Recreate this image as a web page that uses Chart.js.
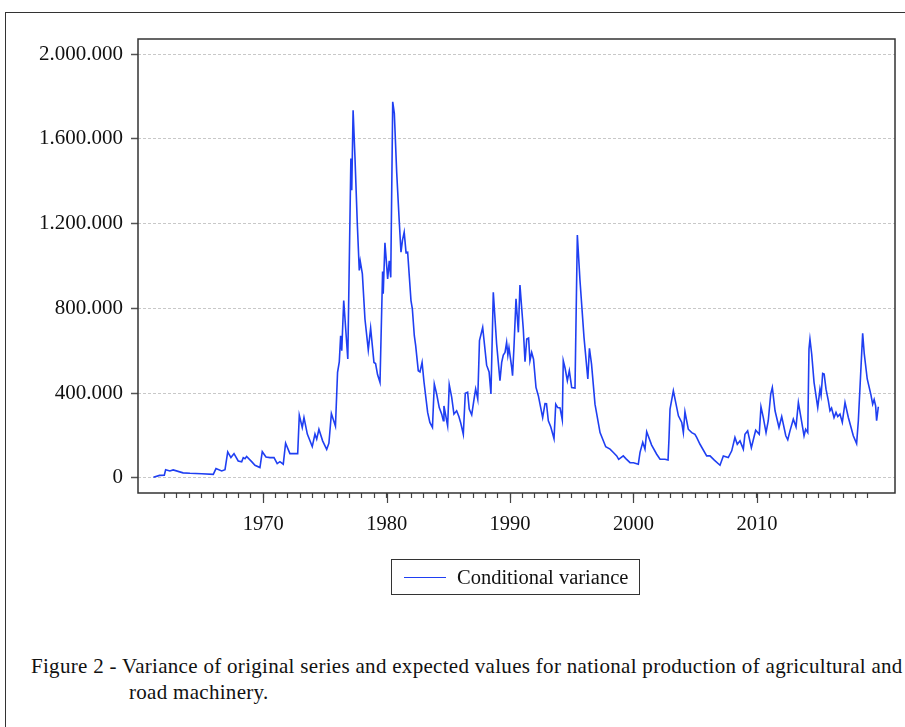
<!DOCTYPE html>
<html>
<head>
<meta charset="utf-8">
<script src="https://cdn.jsdelivr.net/npm/chart.js@4/dist/chart.umd.min.js"></script>
<style>
  html, body { margin: 0; padding: 0; background: #fff; }
  body { width: 905px; height: 727px; position: relative; overflow: hidden; font-family: 'Liberation Serif', 'Times New Roman', serif; color: #111; }
  #frame { position: absolute; left: 5px; top: 12px; width: 905px; height: 720px; border-left: 1.5px solid #333; border-top: 1.5px solid #333; }
  #chartBox { position: absolute; left: 0; top: 0; }
  #legend { position: absolute; left: 391px; top: 559px; width: 247px; height: 34px; border: 1.5px solid #333; font-size: 20.5px; }
  #legend .line { position: absolute; left: 12px; top: 17px; width: 42px; height: 0; border-top: 1.5px solid #1f3ff2; }
  #legend .txt { position: absolute; left: 65px; top: 4px; line-height: 26px; white-space: nowrap; }
  .cap { position: absolute; font-size: 21px; letter-spacing: 0.3px; line-height: 26px; white-space: nowrap; }
</style>
</head>
<body>
<div id="frame"></div>
<canvas id="chartBox" width="905" height="560"></canvas>
<div id="legend"></div>
<div class="cap" style="left:31px; top:653px;">Figure 2 - Variance of original series and expected values for national production of agricultural and</div>
<div class="cap" style="left:129px; top:679px;">road machinery.</div>
<script>
// decimal year of each reading (monthly series)
var years = [
  1961.10, 1961.60, 1961.98, 1962.09, 1962.43, 1962.70, 1963.50, 1964.06, 1965.00, 1965.95,
  1966.17, 1966.63, 1966.90, 1967.12, 1967.38, 1967.63, 1967.97, 1968.25, 1968.38, 1968.52,
  1968.65, 1969.06, 1969.33, 1969.73, 1969.92, 1970.22, 1970.54, 1970.87, 1971.13, 1971.35,
  1971.62, 1971.81, 1972.16, 1972.43, 1972.79, 1972.92, 1973.16, 1973.30, 1973.57, 1973.97,
  1974.19, 1974.33, 1974.51, 1974.81, 1975.14, 1975.32, 1975.52, 1975.85, 1976.02, 1976.16,
  1976.27, 1976.36, 1976.52, 1976.85, 1977.10, 1977.17, 1977.28, 1977.43, 1977.62, 1977.78,
  1977.86, 1978.03, 1978.24, 1978.51, 1978.70, 1978.97, 1979.10, 1979.26, 1979.46, 1979.67,
  1979.72, 1979.86, 1980.08, 1980.21, 1980.33, 1980.49, 1980.62, 1980.81, 1981.00, 1981.16,
  1981.28, 1981.42, 1981.57, 1981.70, 1981.97, 1982.08, 1982.24, 1982.35, 1982.56, 1982.70,
  1982.87, 1983.02, 1983.32, 1983.50, 1983.71, 1983.86, 1984.05, 1984.26, 1984.46, 1984.59,
  1984.64, 1984.80, 1984.94, 1985.07, 1985.27, 1985.45, 1985.67, 1985.85, 1985.99, 1986.21,
  1986.37, 1986.56, 1986.69, 1986.89, 1987.08, 1987.21, 1987.38, 1987.52, 1987.78, 1988.10,
  1988.30, 1988.45, 1988.64, 1988.91, 1989.18, 1989.32, 1989.45, 1989.59, 1989.72, 1989.82,
  1989.91, 1990.13, 1990.20, 1990.32, 1990.48, 1990.67, 1990.80, 1991.07, 1991.21, 1991.35,
  1991.50, 1991.61, 1991.75, 1991.90, 1992.10, 1992.29, 1992.48, 1992.64, 1992.83, 1992.95,
  1993.10, 1993.30, 1993.56, 1993.70, 1993.86, 1994.05, 1994.23, 1994.31, 1994.45, 1994.64,
  1994.80, 1994.99, 1995.26, 1995.45, 1995.66, 1995.99, 1996.30, 1996.43, 1996.60, 1996.88,
  1997.29, 1997.75, 1998.10, 1998.37, 1998.64, 1998.80, 1999.17, 1999.40, 1999.72, 2000.00,
  2000.39, 2000.53, 2000.75, 2000.93, 2001.07, 2001.47, 2001.88, 2002.15, 2002.55, 2002.80,
  2002.88, 2002.96, 2003.23, 2003.64, 2003.91, 2004.04, 2004.17, 2004.44, 2004.72, 2004.98,
  2005.12, 2005.39, 2005.93, 2006.20, 2006.55, 2007.01, 2007.28, 2007.68, 2007.96, 2008.22,
  2008.41, 2008.63, 2008.90, 2009.03, 2009.25, 2009.55, 2009.90, 2010.19, 2010.33, 2010.52,
  2010.74, 2010.92, 2011.12, 2011.25, 2011.47, 2011.79, 2012.01, 2012.34, 2012.50, 2012.68,
  2012.95, 2013.17, 2013.36, 2013.57, 2013.82, 2013.95, 2014.12, 2014.22, 2014.30, 2014.44,
  2014.63, 2014.93, 2015.11, 2015.20, 2015.33, 2015.45, 2015.60, 2015.79, 2015.92, 2016.05,
  2016.25, 2016.41, 2016.55, 2016.73, 2016.92, 2017.14, 2017.41, 2017.81, 2018.08, 2018.22,
  2018.57, 2018.70, 2018.94, 2019.24, 2019.38, 2019.50, 2019.62, 2019.70, 2019.84
];

var condVariance = [
  3000, 12000, 13000, 39000, 33000, 38000, 24000, 22000, 20000, 17000,
  44000, 33000, 39000, 123000, 96000, 115000, 80000, 76000, 96000, 91000,
  101000, 77000, 60000, 49000, 124000, 99000, 96000, 96000, 68000, 77000,
  65000, 164000, 115000, 115000, 115000, 296000, 238000, 285000, 207000, 148000,
  207000, 183000, 230000, 175000, 135000, 164000, 304000, 244000, 498000, 548000,
  671000, 600000, 837000, 561000, 1507000, 1357000, 1735000, 1514000, 1200000, 979000,
  1022000, 963000, 750000, 604000, 707000, 545000, 540000, 488000, 451000, 974000,
  869000, 1109000, 939000, 1024000, 946000, 1775000, 1720000, 1444000, 1231000, 1065000,
  1121000, 1160000, 1063000, 1065000, 837000, 798000, 671000, 624000, 506000, 500000,
  545000, 455000, 309000, 262000, 238000, 443000, 396000, 332000, 301000, 270000,
  340000, 290000, 246000, 440000, 380000, 301000, 317000, 290000, 262000, 206000,
  400000, 405000, 325000, 298000, 372000, 420000, 372000, 648000, 710000, 532000,
  500000, 396000, 876000, 632000, 459000, 545000, 580000, 592000, 640000, 580000,
  616000, 522000, 482000, 624000, 845000, 687000, 910000, 703000, 549000, 656000,
  660000, 553000, 592000, 560000, 427000, 388000, 332000, 285000, 351000, 350000,
  270000, 240000, 185000, 348000, 332000, 330000, 274000, 553000, 520000, 459000,
  506000, 427000, 424000, 1146000, 935000, 663000, 467000, 612000, 537000, 348000,
  214000, 147000, 136000, 120000, 104000, 88000, 104000, 90000, 72000, 72000,
  65000, 121000, 168000, 136000, 218000, 155000, 112000, 88000, 88000, 85000,
  191000, 325000, 411000, 293000, 262000, 214000, 312000, 230000, 214000, 206000,
  191000, 159000, 104000, 104000, 84000, 60000, 104000, 96000, 128000, 191000,
  159000, 175000, 136000, 206000, 222000, 143000, 225000, 206000, 336000, 285000,
  214000, 270000, 396000, 427000, 317000, 238000, 290000, 199000, 180000, 222000,
  277000, 241000, 356000, 285000, 199000, 230000, 214000, 608000, 655000, 585000,
  451000, 332000, 419000, 390000, 493000, 490000, 419000, 364000, 317000, 330000,
  285000, 309000, 290000, 301000, 262000, 356000, 285000, 199000, 162000, 270000,
  682000, 585000, 467000, 392000, 348000, 370000, 340000, 270000, 336000
];

var seriesName = 'Conditional variance';
var yTicks = [0, 400000, 800000, 1200000, 1600000, 2000000];
var xTickYears = [];
for (var yr = 1962; yr <= 2019; yr++) xTickYears.push(yr);
var xLabelYears = [1970, 1980, 1990, 2000, 2010];

var points = [];
for (var i = 0; i < years.length; i++) {
  points.push({x: years[i], y: condVariance[i]});
}

function fmtDots(v) {
  return String(v).replace(/\B(?=(\d{3})+(?!\d))/g, '.');
}

var lineBlue = '#1f3ff2';
var frameColor = '#333';

// box around plot + longer ticks at the labelled decades
var framePlugin = {
  id: 'framePlugin',
  afterDraw: function(chart) {
    var ctx = chart.ctx, a = chart.chartArea, xs = chart.scales.x;
    ctx.save();
    ctx.strokeStyle = frameColor;
    ctx.lineWidth = 1.5;
    ctx.strokeRect(a.left, a.top, a.right - a.left, a.bottom - a.top);
    ctx.lineWidth = 1.2;
    ctx.strokeStyle = '#444';
    xLabelYears.forEach(function(y) {
      var px = Math.round(xs.getPixelForValue(y)) + 0.5;
      ctx.beginPath();
      ctx.moveTo(px, a.bottom);
      ctx.lineTo(px, a.bottom + 10);
      ctx.stroke();
    });
    ctx.restore();
  }
};

Chart.defaults.font.family = "'Liberation Serif', 'Times New Roman', serif";
Chart.defaults.font.size = 20;
Chart.defaults.color = '#111';

var ctx = document.getElementById('chartBox').getContext('2d');
var chart = new Chart(ctx, {
  type: 'line',
  data: {
    datasets: [{
      label: seriesName,
      data: points,
      borderColor: lineBlue,
      borderWidth: 1.6,
      pointRadius: 0,
      tension: 0,
      fill: false
    }]
  },
  options: {
    responsive: false,
    animation: false,
    layout: { padding: { top: 39, right: 10, bottom: 0, left: 0 } },
    plugins: {
      legend: { display: false },
      tooltip: { enabled: false }
    },
    scales: {
      x: {
        type: 'linear',
        min: 1959.85,
        max: 2021.19,
        afterBuildTicks: function(scale) {
          scale.ticks = xTickYears.map(function(v) { return {value: v}; });
        },
        afterFit: function(scale) { scale.height = 67; },
        ticks: {
          autoSkip: false,
          maxRotation: 0,
          padding: 14,
          color: '#111',
          font: { size: 20.5 },
          callback: function(v) { return xLabelYears.indexOf(v) >= 0 ? String(v) : ''; }
        },
        grid: { drawOnChartArea: false, drawTicks: true, tickLength: 5, tickColor: '#444', tickWidth: 1.2 },
        border: { display: false }
      },
      y: {
        min: -71000,
        max: 2071000,
        afterBuildTicks: function(scale) {
          scale.ticks = yTicks.map(function(v) { return {value: v}; });
        },
        afterFit: function(scale) { scale.width = 138; },
        ticks: {
          padding: 8,
          color: '#111',
          font: { size: 21 },
          callback: function(v) { return fmtDots(v); }
        },
        grid: { color: '#c8c8c8', lineWidth: 1, tickLength: 7, tickColor: '#555', tickWidth: 1.5, tickBorderDash: [] },
        border: { display: false, dash: [3, 2] }
      }
    }
  },
  plugins: [framePlugin]
});

// html legend built from the dataset label
var lg = document.getElementById('legend');
chart.data.datasets.forEach(function(ds) {
  lg.innerHTML = '<span class="line" style="border-top-color:' + ds.borderColor + '"></span><span class="txt">' + ds.label + '</span>';
});
</script>
</body>
</html>
